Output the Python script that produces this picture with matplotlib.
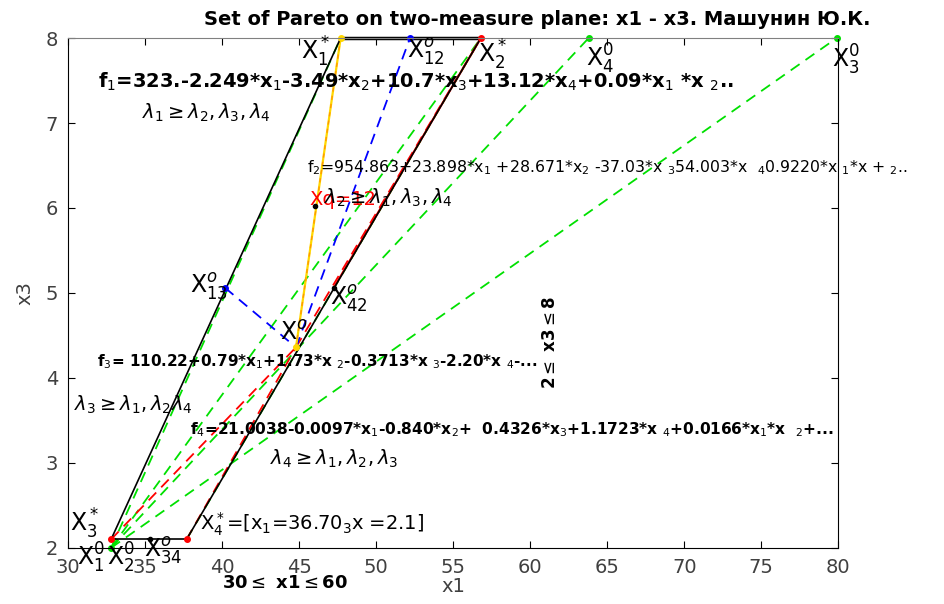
import numpy as np
import matplotlib
matplotlib.use("Agg")
import matplotlib.pyplot as plt

plt.rcParams['font.family'] = ['DejaVu Sans']
plt.rcParams['mathtext.fontset'] = 'dejavusans'

# points on plane x1 - x3
X1s = [47.7, 8.0]     # X1*
X2s = [56.8, 8.0]     # X2*
X3s = [32.8, 2.1]     # X3*
X4s = [37.7, 2.1]     # X4*
Xo = [44.8, 4.36]     # Xo
X12o = [52.2, 8.0]
X13o = [40.2, 5.06]
X42o = [47.25, 5.06]
X34o = [35.3, 2.1]
X10 = [32.8, 2.0]     # X1^0, X2^0
X40 = [63.8, 8.0]
X30 = [79.9, 8.0]
Xq = [46.05, 6.02]

xticks = [30, 35, 40, 45, 50, 55, 60, 65, 70, 75, 80]
yticks = [2, 3, 4, 5, 6, 7, 8]

fig = plt.figure(figsize=(9.44, 6.04), dpi=100)
ax = fig.add_axes([0.072, 0.093, 0.816, 0.844])

def seg(a, b, **kw):
    ax.plot([a[0], b[0]], [a[1], b[1]], **kw)

dash = dict(linestyle=(0, (6, 4)), lw=1.3)

# green dashed rays
for p in [X1s, X2s, X40, X30]:
    seg(X10, p, color='#00e000', **dash)
seg(X4s, X2s, color='#00e000', **dash)

# red lines
seg(X3s, Xo, color='red', **dash)
seg(X4s, Xo, color='red', **dash)
seg(Xo, X2s, color='red', **dash)
seg(X42o, X2s, color='red', lw=1.5)

# blue dashed
seg(X13o, Xo, color='blue', **dash)
seg(Xo, X12o, color='blue', **dash)

# yellow line Xo - X1*
seg(Xo, X1s, color='#ffd800', lw=1.6)
seg(Xo, X1s, color='#ff9900', lw=1.0, linestyle=(0, (3, 3)))

# Pareto set border (black)
seg(X3s, X1s, color='black', lw=1.2)
seg(X4s, X2s, color='black', lw=1.2)
seg(X3s, X4s, color='black', lw=1.2)
ax.plot([X1s[0], X2s[0]], [X1s[1], X2s[1]], color='black', lw=2.5, clip_on=False)

# points
ms = 4
for p in [X3s, X4s, X2s]:
    ax.plot(p[0], p[1], 'o', color='red', ms=ms, clip_on=False)
for p in [X1s, Xo]:
    ax.plot(p[0], p[1], 'o', color='#ffd800', ms=ms, clip_on=False)
for p in [X12o, X13o]:
    ax.plot(p[0], p[1], 'o', color='blue', ms=ms, clip_on=False)
for p in [X10, X40, X30]:
    ax.plot(p[0], p[1], 'o', color='#00e000', ms=ms, clip_on=False)
for p in [X42o, X34o, Xq]:
    ax.plot(p[0], p[1], 'o', color='black', ms=3, clip_on=False)

# labels of points
big = 17
ax.text(45.1, 7.84, r'$\mathrm{X}_1^*$', fontsize=big, va='center')
ax.text(52.0, 7.84, r'$\mathrm{X}_{12}^o$', fontsize=big, va='center')
ax.text(56.6, 7.80, r'$\mathrm{X}_2^*$', fontsize=big, va='center')
ax.text(63.6, 7.76, r'$\mathrm{X}_4^0$', fontsize=big, va='center')
ax.text(79.6, 7.74, r'$\mathrm{X}_3^0$', fontsize=big, va='center', clip_on=False)
ax.text(37.9, 5.08, r'$\mathrm{X}_{13}^o$', fontsize=big, va='center')
ax.text(47.0, 4.93, r'$\mathrm{X}_{42}^o$', fontsize=big, va='center')
ax.text(43.75, 4.53, r'$\mathrm{X}^o$', fontsize=big, va='center')
ax.text(30.15, 2.28, r'$\mathrm{X}_3^*$', fontsize=big, va='center')
ax.text(38.6, 2.28, r'$\mathrm{X}_4^*$=[x$_1$=36.70$_3$x =2.1]', fontsize=14, va='center')
ax.text(30.6, 1.88, r'$\mathrm{X}_1^0$', fontsize=big, va='center', clip_on=False)
ax.text(32.55, 1.88, r'$\mathrm{X}_2^0$', fontsize=big, va='center', clip_on=False)
ax.text(34.95, 1.97, r'$\mathrm{X}_{34}^o$', fontsize=big, va='center', clip_on=False)
ax.text(45.7, 6.1, 'Xq=12', fontsize=14, color='red', va='center')

# criteria
ax.text(31.95, 7.48, 'f$_1$=323.-2.249*x$_1$-3.49*x$_2$+10.7*x$_3$+13.12*x$_4$+0.09*x$_1$ *x $_2$..',
        fontsize=14, fontweight='bold', va='center')
ax.text(34.8, 7.12, r'$\lambda_1 \geq \lambda_2 , \lambda_3 , \lambda_4$', fontsize=14, va='center')
ax.text(45.5, 6.47, 'f$_2$=954.863+23.898*x$_1$ +28.671*x$_2$ -37.03*x $_3$54.003*x  $_4$0.9220*x $_1$*x + $_2$..',
        fontsize=11.3, va='center', clip_on=False)
ax.text(46.6, 6.12, r'$\lambda_2 \geq \lambda_1 , \lambda_3 , \lambda_4$', fontsize=14, va='center')
ax.text(31.9, 4.19, 'f$_3$= 110.22+0.79*x$_1$+1.73*x $_2$-0.3713*x $_3$-2.20*x $_4$-...',
        fontsize=11, fontweight='bold', va='center')
ax.text(30.4, 3.68, r'$\lambda_3 \geq \lambda_1 , \lambda_2 \lambda_4$', fontsize=14, va='center')
ax.text(37.9, 3.39, 'f$_4$=21.0038-0.0097*x$_1$-0.840*x$_2$+  0.4326*x$_3$+1.1723*x $_4$+0.0166*x$_1$*x  $_2$+...',
        fontsize=11.1, fontweight='bold', va='center')
ax.text(43.1, 3.05, r'$\lambda_4 \geq \lambda_1 , \lambda_2 , \lambda_3$', fontsize=14, va='center')

ax.text(61.3, 4.42, r'2$\leq$ x3$\leq$8', fontsize=12, fontweight='bold', rotation=90,
        ha='center', va='center')
ax.text(40.0, 1.59, r'30$\leq$ x1$\leq$60', fontsize=13, fontweight='bold', va='center', clip_on=False)

ax.set_xlim(30, 80)
ax.set_ylim(2, 8)
ax.set_xticks(xticks)
ax.set_yticks(yticks)
ax.tick_params(direction='in', top=True, right=True, length=5, labelsize=14,
               labelcolor='#404040', pad=7)
ax.set_xlabel('x1', fontsize=14, color='#404040', labelpad=0)
ax.set_ylabel('x3', fontsize=14, color='#404040', labelpad=8)
for s in ['left', 'bottom', 'right']:
    ax.spines[s].set_color('black')
ax.spines['top'].set_color('#808080')
fig.text(0.569, 0.967, 'Set of Pareto on two-measure plane: x1 - x3. Машунин Ю.К.', fontsize=14,
         fontweight='bold', ha='center', va='center')

fig.savefig('out.png', dpi=100)
